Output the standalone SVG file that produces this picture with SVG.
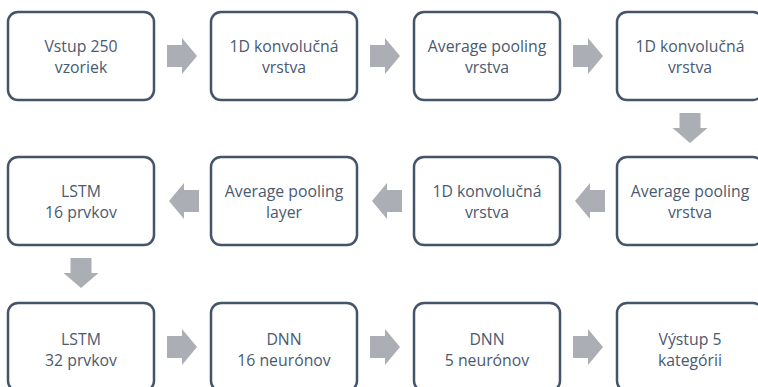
<svg xmlns="http://www.w3.org/2000/svg" xmlns:xlink="http://www.w3.org/1999/xlink" width="758" height="387" viewBox="0 0 758 387">
  <style>
    .box { fill: #ffffff; stroke: #44546A; stroke-width: 2.5; }
    .lbl { font-family: "Open Sans", "Liberation Sans", sans-serif; font-size: 15.8px; fill: #4A5A70; text-anchor: middle; }
    .arr { fill: #ABAEB4; }
  </style>
  <defs>
    <polygon id="ra" class="arr" points="0,-11 15,-11 15,-18 30,0 15,18 15,11 0,11"/>
    <polygon id="da" class="arr" points="-10.5,0 10.5,0 10.5,15 17.5,15 0,30 -17.5,15 -10.5,15"/>
  </defs>
  <rect width="758" height="387" fill="#ffffff"/>

  <g id="connectors">
    <use xlink:href="#ra" transform="translate(167,56)"/>
    <use xlink:href="#ra" transform="translate(370,56)"/>
    <use xlink:href="#ra" transform="translate(573,56)"/>
    <use xlink:href="#da" transform="translate(690,113)"/>
    <use xlink:href="#ra" transform="translate(605,201) scale(-1,1)"/>
    <use xlink:href="#ra" transform="translate(402,201) scale(-1,1)"/>
    <use xlink:href="#ra" transform="translate(199,201) scale(-1,1)"/>
    <use xlink:href="#da" transform="translate(81,258)"/>
    <use xlink:href="#ra" transform="translate(167,347)"/>
    <use xlink:href="#ra" transform="translate(370,347)"/>
    <use xlink:href="#ra" transform="translate(573,347)"/>
  </g>

  <g id="n1">
    <rect class="box" x="8" y="12" width="146" height="88" rx="10"/>
    <text class="lbl" x="81" y="52">Vstup 250</text>
    <text class="lbl" x="81" y="73">vzoriek</text>
  </g>
  <g id="n2">
    <rect class="box" x="211" y="12" width="146" height="88" rx="10"/>
    <text class="lbl" x="284" y="52">1D konvolučná</text>
    <text class="lbl" x="284" y="73">vrstva</text>
  </g>
  <g id="n3">
    <rect class="box" x="414" y="12" width="146" height="88" rx="10"/>
    <text class="lbl" x="487" y="52">Average pooling</text>
    <text class="lbl" x="487" y="73">vrstva</text>
  </g>
  <g id="n4">
    <rect class="box" x="617" y="12" width="146" height="88" rx="10"/>
    <text class="lbl" x="690" y="52">1D konvolučná</text>
    <text class="lbl" x="690" y="73">vrstva</text>
  </g>

  <g id="n5">
    <rect class="box" x="617" y="157" width="146" height="88" rx="10"/>
    <text class="lbl" x="690" y="197">Average pooling</text>
    <text class="lbl" x="690" y="218">vrstva</text>
  </g>
  <g id="n6">
    <rect class="box" x="414" y="157" width="146" height="88" rx="10"/>
    <text class="lbl" x="487" y="197">1D konvolučná</text>
    <text class="lbl" x="487" y="218">vrstva</text>
  </g>
  <g id="n7">
    <rect class="box" x="211" y="157" width="146" height="88" rx="10"/>
    <text class="lbl" x="284" y="197">Average pooling</text>
    <text class="lbl" x="284" y="218">layer</text>
  </g>
  <g id="n8">
    <rect class="box" x="8" y="157" width="146" height="88" rx="10"/>
    <text class="lbl" x="81" y="197">LSTM</text>
    <text class="lbl" x="81" y="218">16 prvkov</text>
  </g>

  <g id="n9">
    <rect class="box" x="8" y="303" width="146" height="88" rx="10"/>
    <text class="lbl" x="81" y="345">LSTM</text>
    <text class="lbl" x="81" y="366">32 prvkov</text>
  </g>
  <g id="n10">
    <rect class="box" x="211" y="303" width="146" height="88" rx="10"/>
    <text class="lbl" x="284" y="345">DNN</text>
    <text class="lbl" x="284" y="366">16 neurónov</text>
  </g>
  <g id="n11">
    <rect class="box" x="414" y="303" width="146" height="88" rx="10"/>
    <text class="lbl" x="487" y="345">DNN</text>
    <text class="lbl" x="487" y="366">5 neurónov</text>
  </g>
  <g id="n12">
    <rect class="box" x="617" y="303" width="146" height="88" rx="10"/>
    <text class="lbl" x="690" y="345">Výstup 5</text>
    <text class="lbl" x="690" y="366">kategórii</text>
  </g>
</svg>
